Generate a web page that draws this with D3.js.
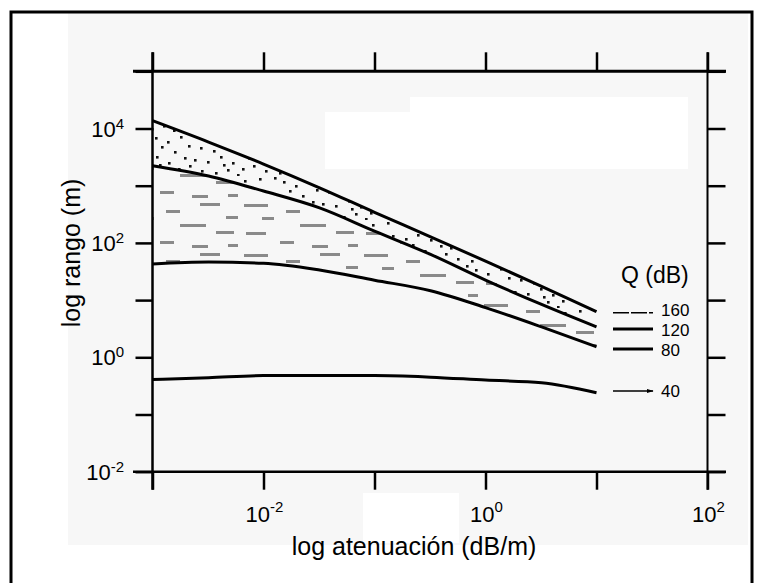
<!DOCTYPE html>
<html>
<head>
<meta charset="utf-8">
<script src="https://cdn.jsdelivr.net/npm/d3@7"></script>
<style>
body { margin: 0; background: #fff; }
text { font-family: "Liberation Sans", Arial, Helvetica, sans-serif; fill: #000; }
</style>
</head>
<body>
<div id="chart"></div>
<script>
// Values (attenuation in dB/m, range in m)
const atenuacion = [0.001, 0.0032, 0.01, 0.032, 0.1, 0.32, 1, 3.2, 10];
const rangoQ160 = [13700, 5800, 2390, 920, 343, 128, 48, 17.4, 6.3];
const rangoQ120 = [2240, 1480, 807, 409, 161, 63, 22.4, 8.4, 3.4];
const rangoQ80 = [42.8, 46.3, 44, 33.6, 22.3, 14.6, 7.4, 3.4, 1.53];
const rangoQ40 = [0.41, 0.44, 0.48, 0.48, 0.48, 0.45, 0.40, 0.36, 0.24];
const qValues = ["160", "120", "80", "40"];

// Ticks and tick labels
const xTicks = [1e-3, 1e-2, 1e-1, 1, 10, 100];
const xLabelTicks = [1e-2, 1, 100];
const xLabelExps = ["-2", "0", "2"];
const yTicks = [1e-2, 1e-1, 1, 10, 100, 1e3, 1e4, 1e5];
const yLabelTicks = [1e-2, 1, 100, 1e4];
const yLabelExps = ["-2", "0", "2", "4"];

const width = 762, height = 583;

const svg = d3.select("#chart")
  .append("svg")
  .attr("width", width)
  .attr("height", height);

// Scales
const x = d3.scaleLog().domain([1e-3, 1e2]).range([152.5, 707.5]);
const y = d3.scaleLog().domain([1e-2, 1e5]).range([471.7, 71.3]);

const rows = atenuacion.map((a, i) => ({
  a: a, q160: rangoQ160[i], q120: rangoQ120[i], q80: rangoQ80[i], q40: rangoQ40[i]
}));

// scanned page look: light grey sheet with a few whited-out patches
svg.append("rect").attr("x", 68).attr("y", 13).attr("width", 680).attr("height", 532).attr("fill", "#f7f7f7");
svg.append("rect").attr("x", 410).attr("y", 97).attr("width", 278).attr("height", 72).attr("fill", "#fff");
svg.append("rect").attr("x", 325).attr("y", 112).attr("width", 85).attr("height", 57).attr("fill", "#fff");
svg.append("rect").attr("x", 363).attr("y", 493).attr("width", 96).attr("height", 50).attr("fill", "#fff");

// outer border
svg.append("rect")
  .attr("x", 11).attr("y", 12)
  .attr("width", 741).attr("height", 600)
  .attr("fill", "none")
  .attr("stroke", "#000")
  .attr("stroke-width", 3);

// Fill patterns
const defs = svg.append("defs");

const dashPat = defs.append("pattern")
  .attr("id", "dashes")
  .attr("patternUnits", "userSpaceOnUse")
  .attr("width", 120).attr("height", 50);
const dashList = [[4, 4, 24], [46, 10, 14], [80, 3, 20], [106, 16, 12], [22, 17, 12], [60, 24, 26],
  [96, 31, 18], [6, 32, 20], [40, 41, 14], [72, 45, 16], [108, 44, 10]];
dashPat.selectAll("rect").data(dashList).enter().append("rect")
  .attr("x", d => d[0]).attr("y", d => d[1]).attr("width", d => d[2]).attr("height", 3)
  .attr("fill", "#8a8a8a");

// stipple: irregular dots in a larger tile so no rows show
const dotPat = defs.append("pattern")
  .attr("id", "dots")
  .attr("patternUnits", "userSpaceOnUse")
  .attr("width", 64).attr("height", 44);
const dotList = [[3, 2], [18, 1], [27, 5], [39, 9], [52, 4], [60, 13], [8, 15], [21, 18], [33, 14],
  [46, 19], [56, 25], [2, 27], [15, 29], [28, 24], [40, 30], [50, 36], [61, 33], [9, 38], [23, 40],
  [35, 37], [45, 42], [31, 32]];
dotPat.selectAll("rect").data(dotList).enter().append("rect")
  .attr("x", d => d[0]).attr("y", d => d[1]).attr("width", 2.6).attr("height", 2.6)
  .attr("fill", "#111");

// Bands
const band = (lo, hi) => d3.area()
  .x(d => x(d.a))
  .y0(d => y(d[lo]))
  .y1(d => y(d[hi]))
  .curve(d3.curveMonotoneX);

svg.append("path").datum(rows).attr("d", band("q80", "q120")).attr("fill", "url(#dashes)");
svg.append("path").datum(rows).attr("d", band("q120", "q160")).attr("fill", "url(#dots)");

// Q curves
["q160", "q120", "q80", "q40"].forEach(k => {
  svg.append("path")
    .datum(rows)
    .attr("d", d3.line().x(d => x(d.a)).y(d => y(d[k])).curve(d3.curveMonotoneX))
    .attr("fill", "none")
    .attr("stroke", "#000")
    .attr("stroke-width", 3);
});

// Axes (ticks only, frame drawn below)
const x0 = x.range()[0], x1 = x.range()[1];
const yb = y.range()[0], yt = y.range()[1];

const styleAxis = g => {
  g.select(".domain").remove();
  g.selectAll("line").attr("stroke", "#000").attr("stroke-width", 2.5);
};

svg.append("g").attr("transform", `translate(0,${yb})`)
  .call(d3.axisBottom(x).tickValues(xTicks).tickSize(18).tickFormat(""))
  .call(styleAxis);
svg.append("g").attr("transform", `translate(0,${yt})`)
  .call(d3.axisTop(x).tickValues(xTicks).tickSize(19).tickFormat(""))
  .call(styleAxis);
svg.append("g").attr("transform", `translate(${x0},0)`)
  .call(d3.axisLeft(y).tickValues(yTicks).tickSize(17).tickFormat(""))
  .call(styleAxis);
svg.append("g").attr("transform", `translate(${x1},0)`)
  .call(d3.axisRight(y).tickValues(yTicks).tickSize(18).tickFormat(""))
  .call(styleAxis);

// Frame
const frame = svg.append("g").attr("stroke", "#000");
frame.append("line").attr("x1", 133).attr("x2", 726).attr("y1", yt).attr("y2", yt).attr("stroke-width", 3);
frame.append("line").attr("x1", 133).attr("x2", 726).attr("y1", yb).attr("y2", yb).attr("stroke-width", 2.5);
frame.append("line").attr("x1", x0).attr("x2", x0).attr("y1", yt - 19).attr("y2", yb + 18).attr("stroke-width", 2.5);
frame.append("line").attr("x1", x1).attr("x2", x1).attr("y1", yt - 19).attr("y2", yb + 18).attr("stroke-width", 2);

// Tick labels with exponents
xLabelTicks.forEach((v, i) => {
  const t = svg.append("text")
    .attr("x", x(v) + 1)
    .attr("y", 522)
    .attr("text-anchor", "middle")
    .style("font-size", "22px");
  t.append("tspan").text("10");
  t.append("tspan").attr("dy", -10).style("font-size", "15px").text(xLabelExps[i]);
});

yLabelTicks.forEach((v, i) => {
  const t = svg.append("text")
    .attr("x", 124)
    .attr("y", y(v) + 8)
    .attr("text-anchor", "end")
    .style("font-size", "22px");
  t.append("tspan").text("10");
  t.append("tspan").attr("dy", -8).style("font-size", "15px").text(yLabelExps[i]);
});

// Axis titles
svg.append("text")
  .attr("x", 414)
  .attr("y", 555)
  .attr("text-anchor", "middle")
  .style("font-size", "25px")
  .text("log atenuación (dB/m)");

svg.append("text")
  .attr("transform", "rotate(-90)")
  .attr("x", -253)
  .attr("y", 80)
  .attr("text-anchor", "middle")
  .style("font-size", "25px")
  .text("log rango (m)");

// Legend
defs.append("marker")
  .attr("id", "arrow")
  .attr("viewBox", "0 0 10 6")
  .attr("refX", 9).attr("refY", 3)
  .attr("markerWidth", 7).attr("markerHeight", 5)
  .attr("markerUnits", "userSpaceOnUse")
  .attr("orient", "auto")
  .append("path").attr("d", "M0,0L10,3L0,6").attr("fill", "#000");

svg.append("text")
  .attr("x", 621)
  .attr("y", 283)
  .style("font-size", "23px")
  .text("Q (dB)");

const legendY = [312.7, 329, 349, 391];
const legendTextY = [315.5, 335.5, 356, 397];
const legendW = [1.6, 3, 3, 1.6];
const legendDash = ["16,2", null, null, null];

const legendItems = svg.selectAll(".legend-item")
  .data(qValues)
  .enter()
  .append("g")
  .attr("class", "legend-item");

legendItems.append("line")
  .attr("x1", 613).attr("x2", 653)
  .attr("y1", (d, i) => legendY[i]).attr("y2", (d, i) => legendY[i])
  .attr("stroke", "#000")
  .attr("stroke-width", (d, i) => legendW[i])
  .attr("stroke-dasharray", (d, i) => legendDash[i])
  .attr("marker-end", (d, i) => i === 3 ? "url(#arrow)" : null);

legendItems.append("text")
  .attr("x", 661)
  .attr("y", (d, i) => legendTextY[i])
  .style("font-size", "17px")
  .text(d => d);
</script>
</body>
</html>
